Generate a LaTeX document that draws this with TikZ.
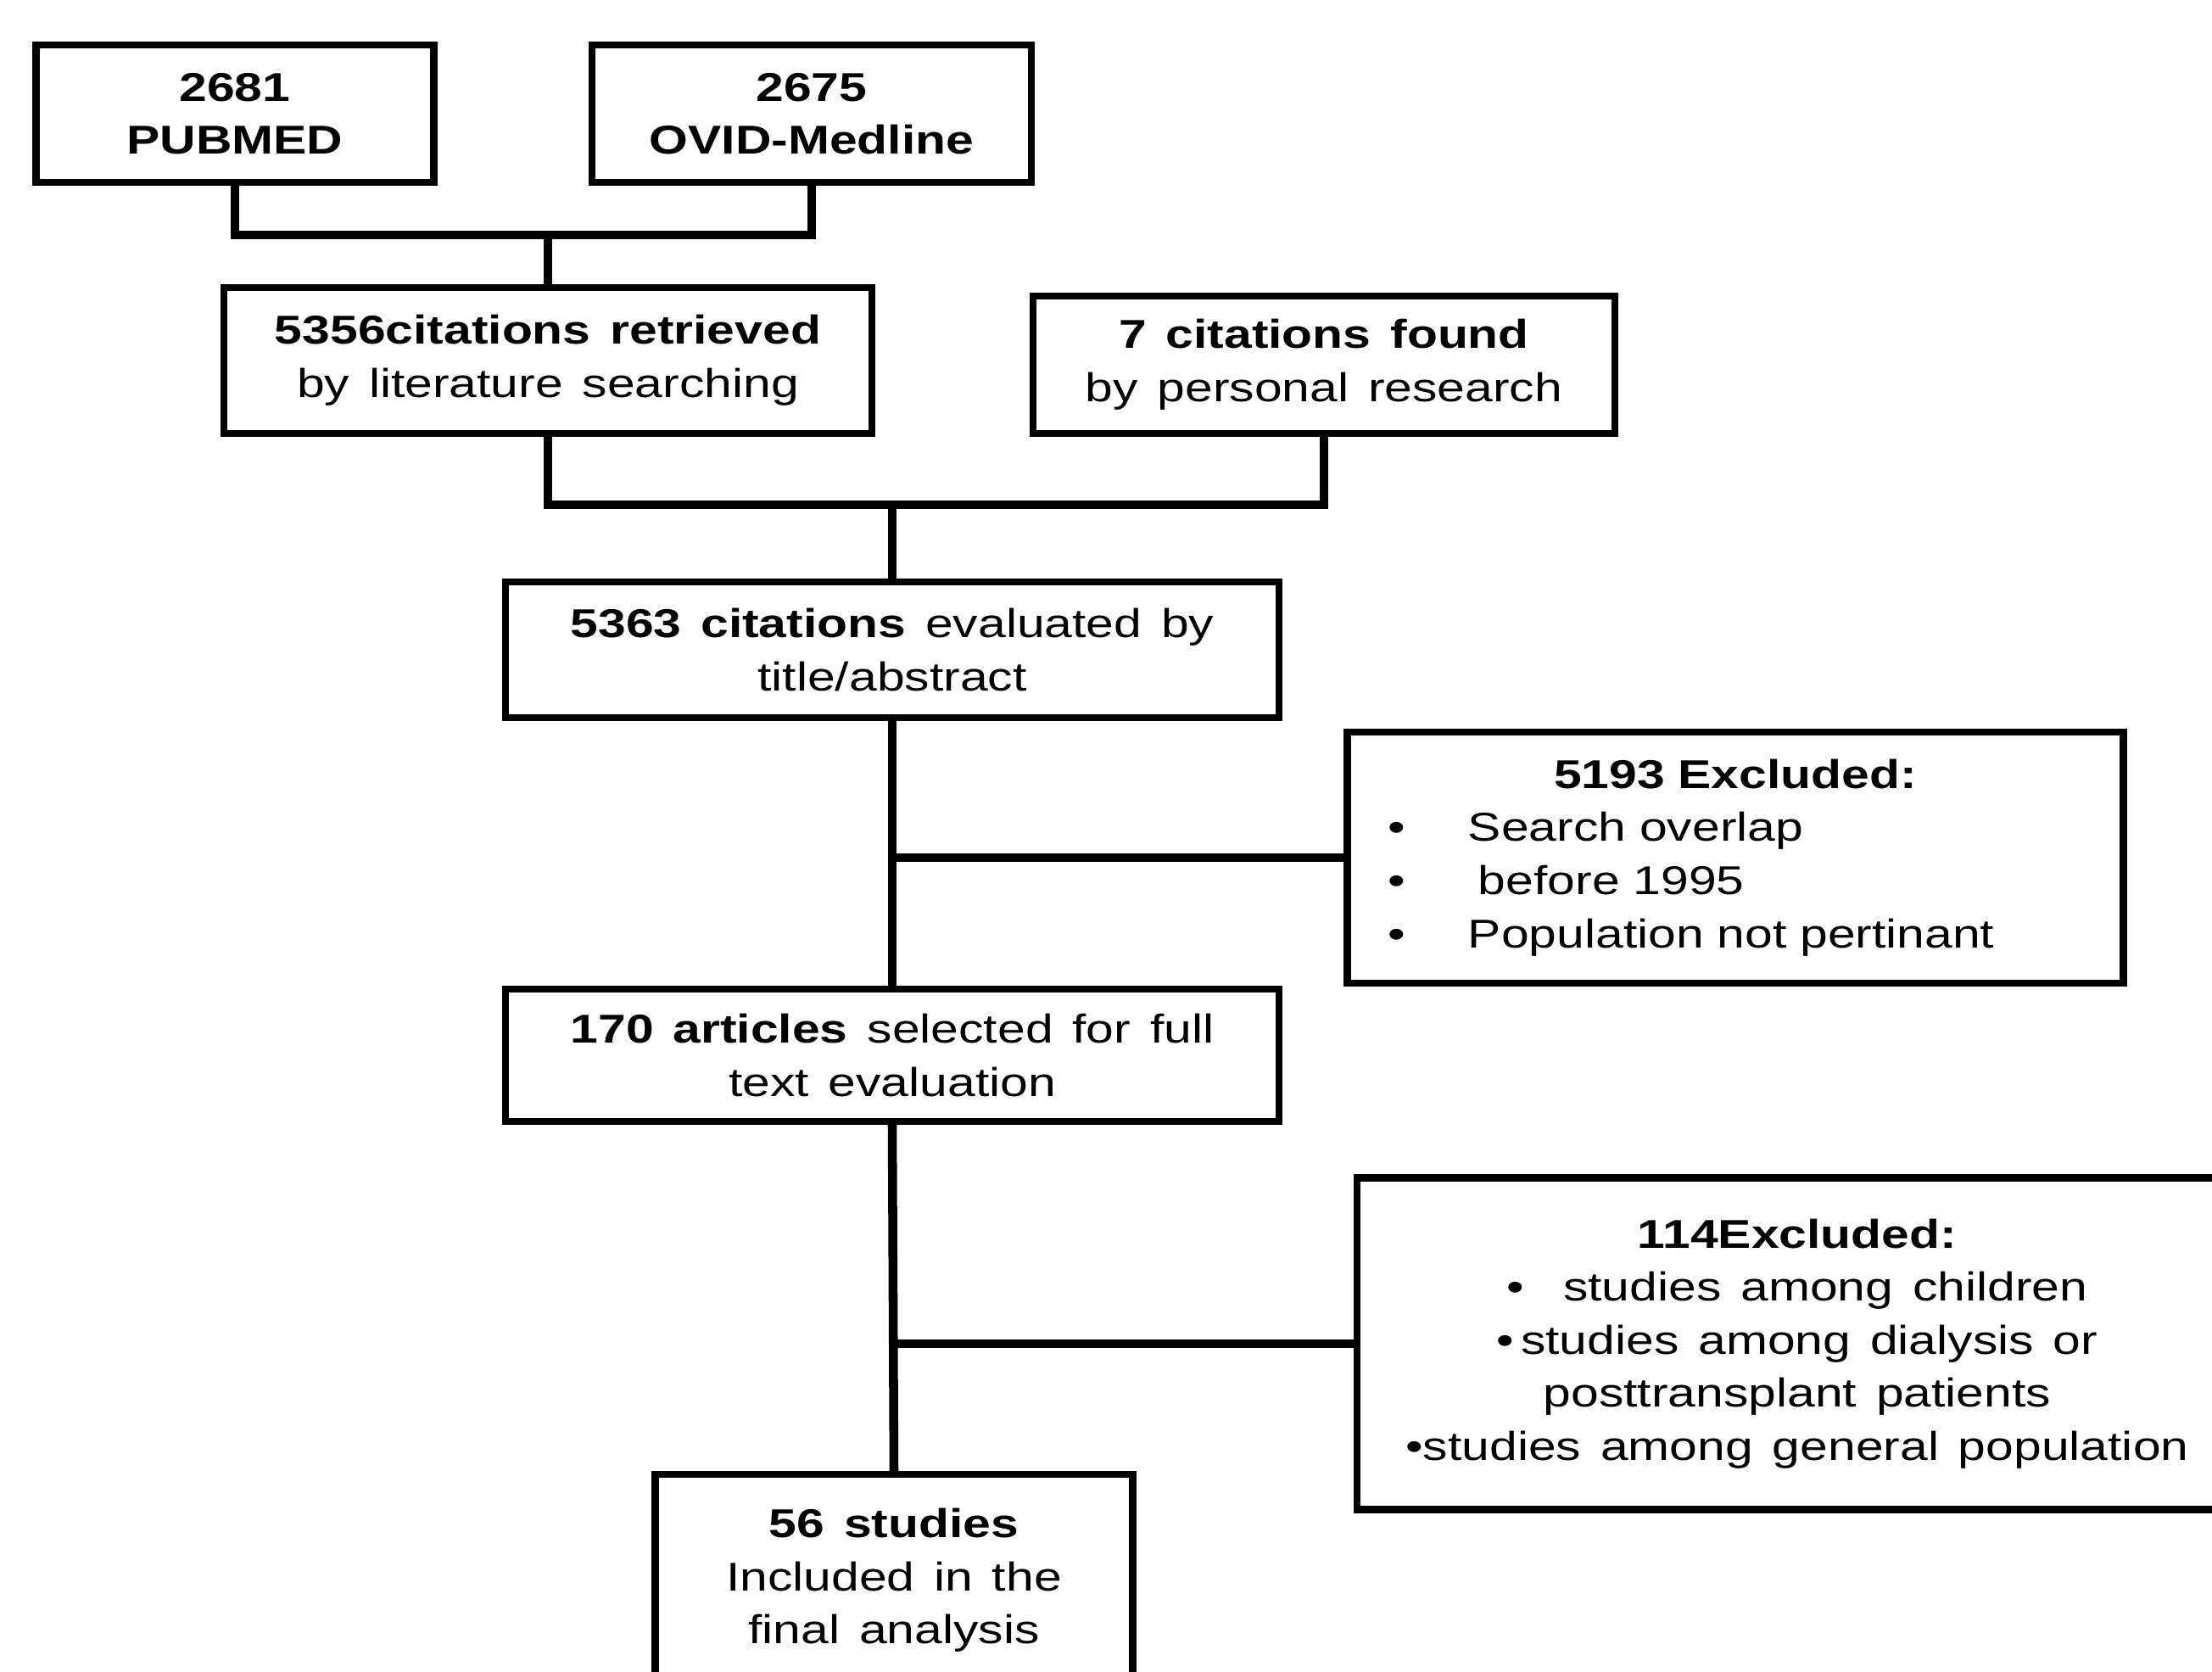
\documentclass[tikz,border=0pt]{standalone}
\usepackage{fontspec}
\setmainfont{Liberation Sans}[FakeStretch=1.24,WordSpace=1.4]

\begin{document}
\begin{tikzpicture}[
  font=\fontsize{13.5}{17.8}\selectfont,
  box/.style={draw, line width=2.3pt, align=center, inner sep=0pt},
  conn/.style={line width=3pt}
]
% Page frame (boxes at the right and bottom run off the page)
\clip (0,0) rectangle (26.08,-19.71);
\fill[white] (0,0) rectangle (26.08,-19.71);

% Search sources
\node[box, minimum width=4.69cm, minimum height=1.62cm] (pubmed) at (2.77,-1.34) {\textbf{2681}\\\textbf{PUBMED}};
\node[box, minimum width=5.18cm, minimum height=1.62cm] (ovid) at (9.57,-1.34) {\textbf{2675}\\\textbf{OVID-Medline}};

% Retrieved citations
\node[box, minimum width=7.64cm, minimum height=1.72cm] (lit) at (6.46,-4.25) {\textbf{5356citations\ retrieved}\\by literature searching};
\node[box, minimum width=6.86cm, minimum height=1.62cm] (pers) at (15.61,-4.30) {\textbf{7 citations found}\\by personal research};

% Screening
\node[box, minimum width=9.12cm, minimum height=1.60cm] (eval) at (10.52,-7.66) {\textbf{5363 citations} evaluated by\\title/abstract};
\node[box, minimum width=9.15cm, minimum height=2.96cm, text width=8.2cm, align=left] (excl1) at (20.46,-10.11) {%
  \makebox[\linewidth]{\textbf{5193 Excluded:}}\\
  \makebox[0.95cm][l]{\textbullet}Search overlap\\
  \makebox[0.95cm][l]{\textbullet}\hspace{0.12cm}before 1995\\
  \makebox[0.95cm][l]{\textbullet}Population not pertinant};

% Full text
\node[box, minimum width=9.12cm, minimum height=1.56cm] (full) at (10.52,-12.44) {\textbf{170 articles} selected for full\\text evaluation};
\node[box, minimum width=10.38cm, minimum height=3.91cm] (excl2) at (21.19,-15.84) {%
  \textbf{114Excluded:}\\
  \textbullet\ \ studies among children\\
  \textbullet\,studies among dialysis or\\
  posttransplant patients\\
  \textbullet studies among general population};
\node[box, minimum width=5.63cm, minimum height=2.50cm] (final) at (10.54,-18.63) {\textbf{56 studies}\\Included in the\\final analysis};

% Connectors
\coordinate (j1) at (6.46,-2.77);
\coordinate (j2) at (10.52,-5.95);
\draw[conn] (pubmed.south) |- (j1) -| (ovid.south);
\draw[conn] (j1) -- (lit.north);
\draw[conn] (lit.south) |- (j2) -| (pers.south);
\draw[conn] (j2) -- (eval.north);
\draw[conn] (eval.south) -- (full.north);
\draw[conn] (eval.south |- excl1.west) -- (excl1.west);
\draw[conn] (full.south) -- (final.north);
\draw[conn] (full.south |- excl2.west) -- (excl2.west);
\end{tikzpicture}
\end{document}
